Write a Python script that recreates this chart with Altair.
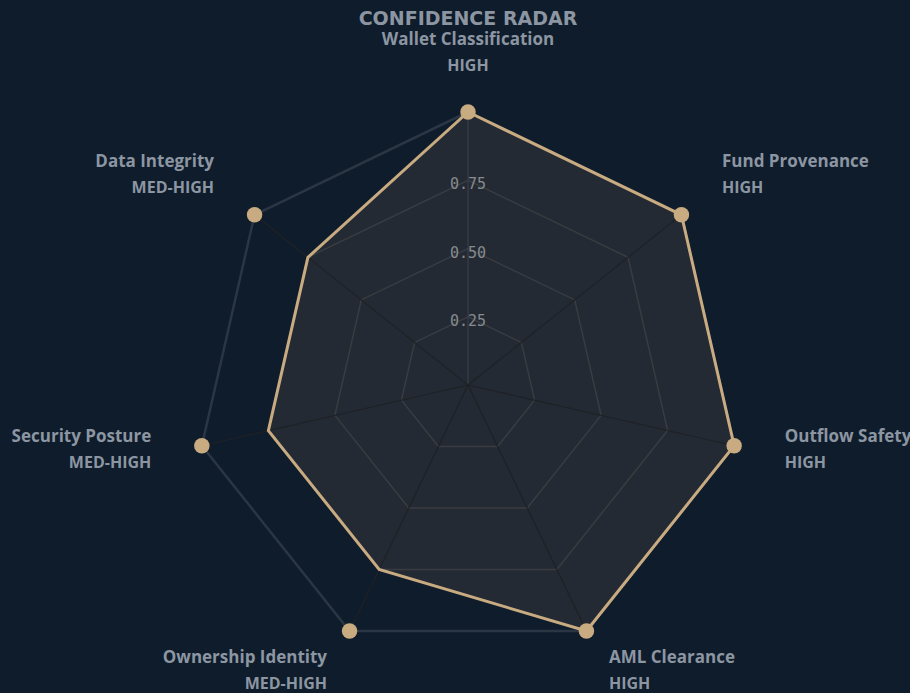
import math
import pandas as pd
import altair as alt

# ---------------- data ----------------
categories = ["Wallet Classification", "Fund Provenance", "Outflow Safety",
              "AML Clearance", "Ownership Identity", "Security Posture", "Data Integrity"]
levels = ["HIGH", "HIGH", "HIGH", "HIGH", "MED-HIGH", "MED-HIGH", "MED-HIGH"]
scores = [1.0, 1.0, 1.0, 1.0, 0.75, 0.75, 0.75]
tick_values = [0.25, 0.50, 0.75]
tick_labels = ["0.25", "0.50", "0.75"]
max_value = 1.0
title_text = "CONFIDENCE RADAR"

# ---------------- style ----------------
BG = "#0f1c2b"
BEIGE = "#c9ab82"
FILL = "#242a33"
GRID = "#393c40"
OUTER = "#2a3644"
SPOKE = "#1f2125"
TEXT = "#8c96a2"
LABEL_R = 1.19

n = len(categories)
rows = []
for i, (c, lv, s) in enumerate(zip(categories, levels, scores)):
    a = 2 * math.pi * i / n
    sx, cy = math.sin(a), math.cos(a)
    side = "left" if sx > 0.01 else ("right" if sx < -0.01 else "center")
    rows.append(dict(idx=i, cat=c, level=lv, score=s,
                     x=s * sx, y=s * cy,
                     ox=max_value * sx, oy=max_value * cy,
                     lx=LABEL_R * sx, ly=LABEL_R * cy,
                     cx=0.0, cy0=0.0, side=side, first=(i == 0)))
df = pd.DataFrame(rows)

grid_rows = []
for t in tick_values:
    for i in range(n):
        a = 2 * math.pi * i / n
        grid_rows.append(dict(ring=t, idx=i, x=t * math.sin(a), y=t * math.cos(a)))
grid = pd.DataFrame(grid_rows)

ticks = pd.DataFrame({"x": [0.0] * len(tick_values), "y": tick_values, "label": tick_labels})

XD = [-468 / 273, 442 / 273]
YD = [-308 / 273, 345 / 273]
xs = alt.Scale(domain=XD, nice=False, zero=False)
ys = alt.Scale(domain=YD, nice=False, zero=False)

def X(f):
    return alt.X(f, type="quantitative", scale=xs, axis=None)

def Y(f):
    return alt.Y(f, type="quantitative", scale=ys, axis=None)

base = alt.Chart(df)

outer = base.mark_line(interpolate="linear-closed", stroke=OUTER, strokeWidth=2.5).encode(
    x=X("ox"), y=Y("oy"), order="idx:Q")

fill = base.mark_line(interpolate="linear-closed", fill=FILL, stroke=None, strokeWidth=0).encode(
    x=X("x"), y=Y("y"), order="idx:Q")

rings = alt.Chart(grid).mark_line(interpolate="linear-closed", strokeWidth=1.5).encode(
    x=X("x"), y=Y("y"), order="idx:Q", detail="ring:N", color=alt.value(GRID))

spokes = base.mark_rule(strokeWidth=1.2).encode(
    x=X("cx"), y=Y("cy0"), x2="ox", y2="oy",
    color=alt.condition("datum.first", alt.value("#3a3f45"), alt.value(SPOKE)))

data_line = base.mark_line(interpolate="linear-closed", stroke=BEIGE, strokeWidth=3).encode(
    x=X("x"), y=Y("y"), order="idx:Q")

dots = base.mark_circle(size=240, opacity=1, color=BEIGE).encode(x=X("ox"), y=Y("oy"))

tick_text = alt.Chart(ticks).mark_text(
    font="DejaVu Sans Mono", fontSize=15, color="#868b90", baseline="middle", dy=4
).encode(x=X("x"), y=Y("y"), text="label:N")

label_layers = []
for side in ["left", "center", "right"]:
    sub = base.transform_filter(alt.datum.side == side)
    label_layers.append(sub.mark_text(
        font="Open Sans", fontSize=17, fontWeight="bold", color=TEXT, align=side,
        baseline="middle", dy=-20).encode(x=X("lx"), y=Y("ly"), text="cat:N"))
    label_layers.append(sub.mark_text(
        font="Open Sans", fontSize=16, fontWeight="bold", color=TEXT, align=side,
        baseline="middle", dy=6).encode(x=X("lx"), y=Y("ly"), text="level:N"))

chart = alt.layer(outer, fill, rings, spokes, data_line, dots, tick_text, *label_layers).properties(
    width=910, height=653,
    autosize=alt.AutoSizeParams(type="none"),
    padding={"top": 40, "left": 0, "right": 0, "bottom": 0},
    background=BG,
    title=alt.TitleParams(text=title_text, anchor="middle", dx=13, offset=2,
                          font="DejaVu Sans", fontSize=19, fontWeight="bold", color=TEXT),
).configure_view(stroke=None)

chart.save("out.html", embed_options={"renderer": "svg", "actions": False})
